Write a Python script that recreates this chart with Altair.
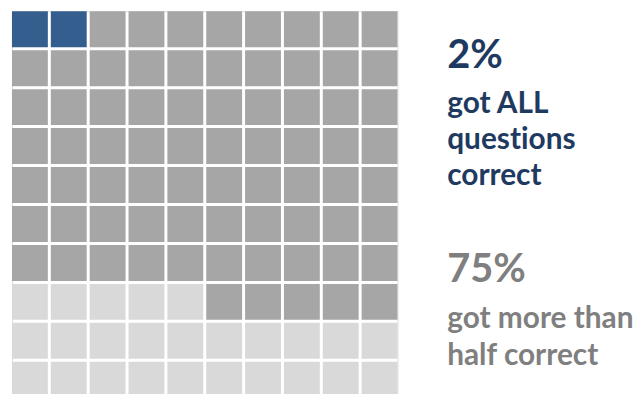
import altair as alt
import pandas as pd

# --- data ---
categories = ["Got all questions correct", "Got more than half correct", "Other"]
counts = [2, 73, 25]          # cells out of 100
colors = ["#335e8e", "#a6a6a6", "#d9d9d9"]

n_rows = 10
n_cols = 10

headline_1 = "2%"
caption_1 = ["got ALL", "quest\u200cions", "correct"]
headline_2 = "75%"
caption_2 = ["got more than", "half correct"]

# --- build waffle cells ---
cat_grid = {}
# light cells fill from bottom-left, left to right, upward
k = 0
for r in range(n_rows - 1, -1, -1):
    for c in range(n_cols):
        if k < counts[2]:
            cat_grid[(r, c)] = categories[2]
        k += 1
# highlighted cells fill from top-left
k = 0
for r in range(n_rows):
    for c in range(n_cols):
        if (r, c) in cat_grid:
            continue
        cat_grid[(r, c)] = categories[0] if k < counts[0] else categories[1]
        k += 1

cells = pd.DataFrame(
    [{"row": r, "col": c, "cat": cat_grid[(r, c)]} for r in range(n_rows) for c in range(n_cols)]
)

pad_in = 3 / 39.1

grid = alt.Chart(cells).mark_rect().encode(
    x=alt.X("col:O", axis=None, scale=alt.Scale(paddingInner=pad_in, paddingOuter=0)),
    y=alt.Y("row:O", axis=None, scale=alt.Scale(paddingInner=pad_in, paddingOuter=0)),
    color=alt.Color("cat:N", legend=None,
                    scale=alt.Scale(domain=categories, range=colors)),
)

FONT = "Lato"
BLUE_TXT = "#1f3a60"
GRAY_TXT = "#7f7f7f"
TX = 438

def txt(s, y, size, color, lh=None):
    kw = dict(align="left", baseline="alphabetic", font=FONT, fontWeight="bold",
              fontSize=size, color=color)
    if lh is not None:
        kw["lineHeight"] = lh
    return alt.Chart(pd.DataFrame({"t": [s]})).mark_text(**kw).encode(
        text="t:N", x=alt.value(TX), y=alt.value(y)
    )

layers = [
    grid,
    txt(headline_1, 57, 40, BLUE_TXT),
    txt("\n".join(caption_1), 102, 30, BLUE_TXT, 36.5),
    txt(headline_2, 273, 40, GRAY_TXT),
    txt("\n".join(caption_2), 319, 30, GRAY_TXT, 37),
]

chart = alt.layer(*layers).properties(
    width=388, height=389,
    padding={"left": 4, "top": 1, "right": 0, "bottom": 0},
).configure_view(stroke=None).configure(background="white")

chart = chart.configure_text(lineBreak="\n")

chart.save("out.html", embed_options={"renderer": "svg", "actions": False})
